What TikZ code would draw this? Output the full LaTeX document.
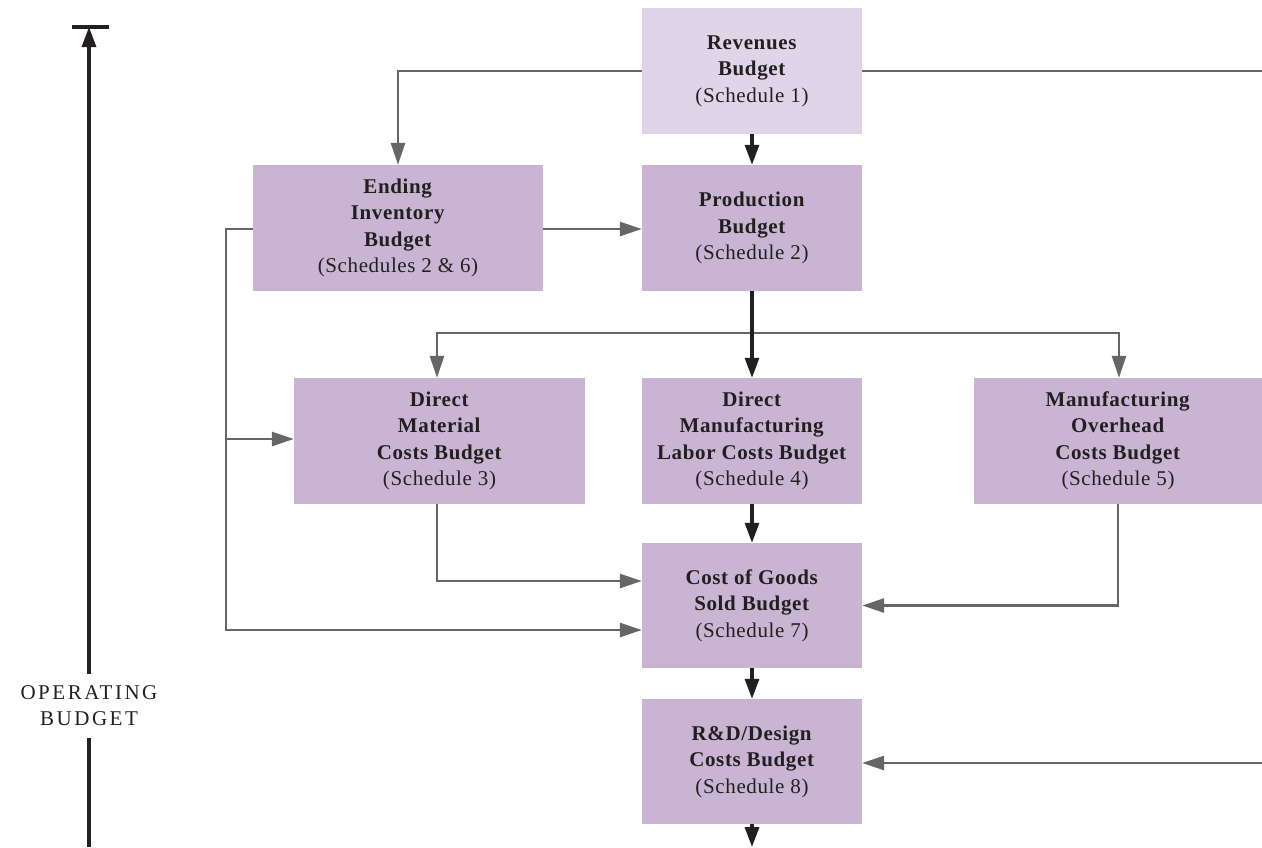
\documentclass[tikz,border=0pt]{standalone}
\usepackage{fontspec}
\setmainfont{Liberation Serif}
\usetikzlibrary{arrows.meta}
\definecolor{boxlight}{HTML}{DFD5E9}
\definecolor{boxmain}{HTML}{C9B5D3}
\definecolor{linegray}{HTML}{666666}
\definecolor{lineblack}{HTML}{231F20}
\definecolor{textcol}{HTML}{231F20}
\begin{document}
\begin{tikzpicture}[x=1pt,y=-1pt,
  bbox/.style={fill=boxmain, minimum width=220pt, minimum height=126pt, inner sep=0pt,
    align=center, text=textcol, font=\fontsize{21}{26.5}\selectfont\addfontfeature{LetterSpace=3}},
  garrow/.style={draw=linegray, line width=2.8pt, -{Triangle[length=22pt,width=14pt]}},
  gline/.style={draw=linegray, line width=2.8pt},
  barrow/.style={draw=lineblack, line width=3.2pt, -{Triangle[length=20pt,width=14pt]}},
  bline/.style={draw=lineblack, line width=3.2pt},
  axlabel/.style={align=center, text=textcol, inner sep=0pt,
    font=\fontsize{21}{26}\selectfont\addfontfeature{LetterSpace=12}},
]
\useasboundingbox (0,0) rectangle (1262,847);

% boxes
\node[bbox, fill=boxlight] (rev) at (752,71) {\textbf{Revenues}\\\textbf{Budget}\\(Schedule 1)};
\node[bbox] (prod) at (752,228) {\textbf{Production}\\\textbf{Budget}\\(Schedule 2)};
\node[bbox, minimum width=290pt] (ei) at (398,228) {\textbf{Ending}\\\textbf{Inventory}\\\textbf{Budget}\\(Schedules 2 \& 6)};
\node[bbox, minimum width=291pt] (dm) at (439.5,441) {\textbf{Direct}\\\textbf{Material}\\\textbf{Costs Budget}\\(Schedule 3)};
\node[bbox] (dml) at (752,441) {\textbf{Direct}\\\textbf{Manufacturing}\\\textbf{Labor Costs Budget}\\(Schedule 4)};
\node[bbox, minimum width=288pt] (moh) at (1118,441) {\textbf{Manufacturing}\\\textbf{Overhead}\\\textbf{Costs Budget}\\(Schedule 5)};
\node[bbox, minimum height=125pt] (cogs) at (752,605.5) {\textbf{Cost of Goods}\\\textbf{Sold Budget}\\(Schedule 7)};
\node[bbox, minimum height=125pt] (rd) at (752,761.5) {\textbf{R\&D/Design}\\\textbf{Costs Budget}\\(Schedule 8)};

% helper coordinates
\coordinate (revR) at (1262,71);
\coordinate (rdR) at (1262,763);
\coordinate (jtop) at (226,229);
\coordinate (jmid) at (226,439);
\coordinate (jbot) at (226,630);
\coordinate (hl) at (437,333);
\coordinate (hr) at (1119,333);
\coordinate (dmc) at (437,581);
\coordinate (rdout) at (752,847);
\coordinate (axtop) at (89,27);
\coordinate (axbot) at (89,847);
\coordinate (barL) at (72,27);
\coordinate (barR) at (109,27);

% gray connectors
\draw[garrow] (rev.west) -| (ei.north);
\draw[gline] (rev.east |- revR) -- (revR);
\draw[garrow] (ei.east |- jtop) -- (prod.west |- jtop);
\draw[garrow] (ei.west |- jtop) -- (jtop) -- (jbot) -- (jbot -| cogs.west);
\draw[garrow] (jmid) -- (jmid -| dm.west);
\draw[garrow] (prod.south |- hl) -- (hl) -- (hl |- dm.north);
\draw[garrow] (prod.south |- hr) -- (hr) -- (hr |- moh.north);
\draw[garrow] (dmc |- dm.south) -- (dmc) -- (dmc -| cogs.west);
\draw[garrow] (moh.south) |- (cogs.east);
\draw[garrow] (rdR) -- (rdR -| rd.east);

% black connectors
\draw[barrow] (rev.south) -- (prod.north);
\draw[barrow] (prod.south) -- (dml.north);
\draw[barrow] (dml.south) -- (cogs.north);
\draw[barrow] (cogs.south) -- (rd.north);
\draw[barrow] (rd.south) -- (rdout);

% operating budget axis
\node[axlabel] (oplab) at (89,706) {OPERATING\\BUDGET};
\draw[barrow] ([yshift=12pt]oplab.north) -- (axtop);
\draw[bline] (barL) -- (barR);
\draw[bline] ([yshift=-12pt]oplab.south) -- (axbot);
\end{tikzpicture}
\end{document}
